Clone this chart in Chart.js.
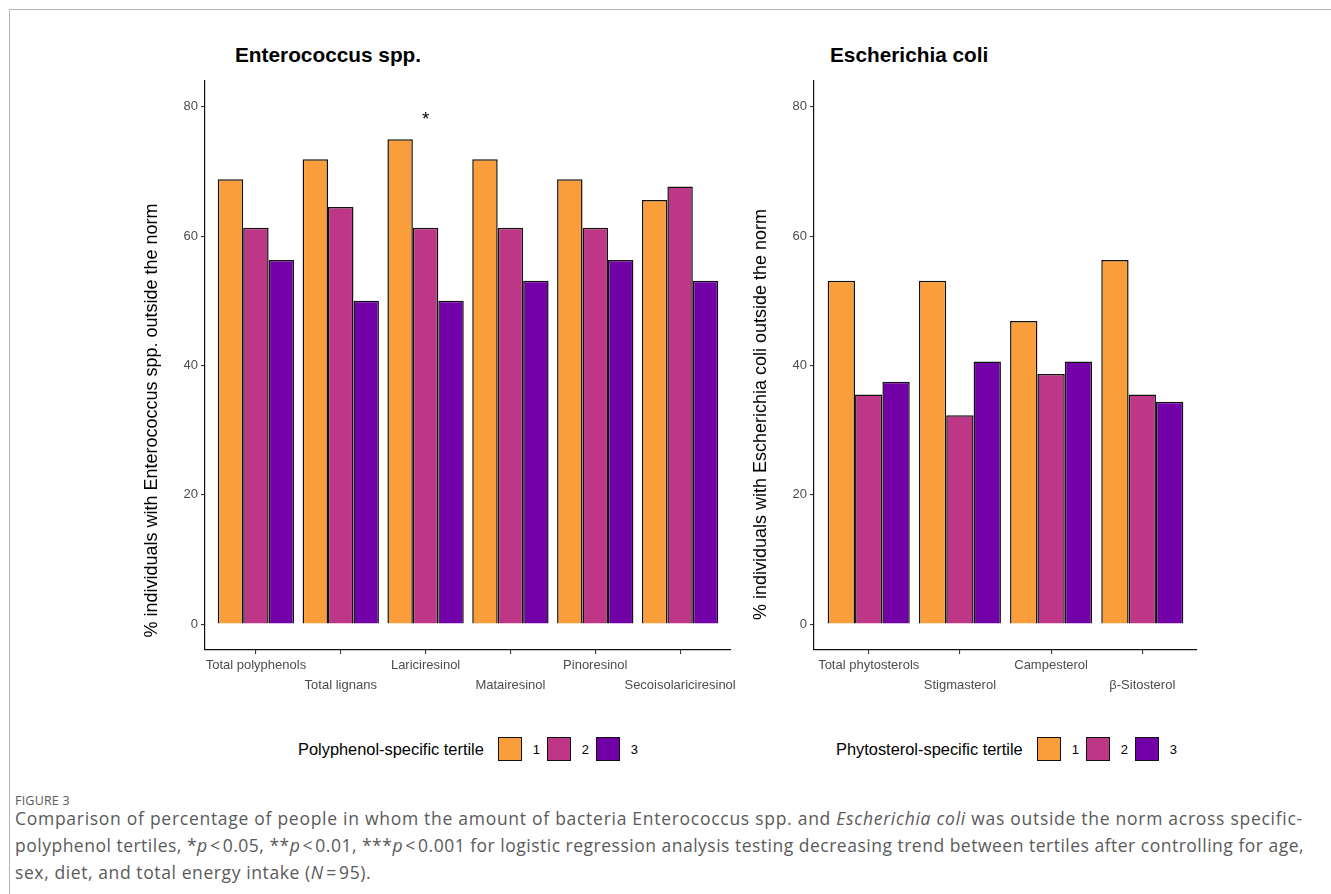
<!DOCTYPE html>
<html>
<head>
<meta charset="utf-8">
<script src="https://cdn.jsdelivr.net/npm/chart.js@4.4.0/dist/chart.umd.min.js"></script>
<style>
  body { margin: 0; background: #fff; width: 1331px; height: 894px; position: relative; overflow: hidden; font-family: "Liberation Sans", Arial, sans-serif; }
  .frame { position: absolute; left: 9px; top: 9px; width: 1330px; height: 900px; border-left: 1px solid #b5b5b5; border-top: 1px solid #b5b5b5; }
  canvas { position: absolute; }
  .ptitle { position: absolute; font-weight: bold; font-size: 20.8px; color: #000; white-space: nowrap; line-height: 1; }
  .legend { position: absolute; display: flex; align-items: center; font-size: 16.4px; color: #000; white-space: nowrap; height: 24px; }
  .legend .name { margin-right: 14px; }
  .legend .sw { width: 22px; height: 22px; border: 1px solid #111; margin-right: 11px; }
  .legend .lab { font-size: 13px; margin-right: 6px; width: 8px; }
  .fig { position: absolute; left: 15px; top: 792px; font-family: "Open Sans", sans-serif; font-size: 12.5px; color: #5a5a5a; letter-spacing: 0.2px; }
  .caption { position: absolute; left: 15px; top: 805px; font-family: "Open Sans", sans-serif; font-size: 17.5px; line-height: 27px; color: #5a5a5a; white-space: nowrap; }
  .caption div { height: 27px; }
</style>
</head>
<body>
<div class="frame"></div>

<div class="ptitle" style="left:235px; top:45px;">Enterococcus spp.</div>
<div class="ptitle" style="left:830px; top:45px;">Escherichia coli</div>

<canvas id="polyChart" width="620" height="640" style="left:130px; top:70px;"></canvas>
<canvas id="sterolChart" width="480" height="640" style="left:740px; top:70px;"></canvas>

<div class="legend" id="polyLegend" style="left:298px; top:737px;"></div>
<div class="legend" id="sterolLegend" style="left:836px; top:737px;"></div>

<div class="fig">FIGURE 3</div>
<div class="caption">
  <div style="letter-spacing:0.72px;">Comparison of percentage of people in whom the amount of bacteria Enterococcus spp. and <i>Escherichia coli</i> was outside the norm across specific-</div>
  <div style="letter-spacing:0.5px;">polyphenol tertiles, *<i>p</i>&#8202;&lt;&#8202;0.05, **<i>p</i>&#8202;&lt;&#8202;0.01, ***<i>p</i>&#8202;&lt;&#8202;0.001 for logistic regression analysis testing decreasing trend between tertiles after controlling for age,</div>
  <div style="letter-spacing:0.6px;">sex, diet, and total energy intake (<i>N</i>&#8202;=&#8202;95).</div>
</div>

<script>
// Enterococcus spp. panel (polyphenols)
const polyCats = ['Total polyphenols', 'Total lignans', 'Lariciresinol', 'Matairesinol', 'Pinoresinol', 'Secoisolariciresinol'];
const polyT1 = [68.8, 71.9, 75.0, 71.9, 68.8, 65.6];
const polyT2 = [61.3, 64.5, 61.3, 61.3, 61.3, 67.7];
const polyT3 = [56.3, 50.0, 50.0, 53.1, 56.3, 53.1];
const polySig = ['', '', '*', '', '', ''];

// Escherichia coli panel (phytosterols)
const sterolCats = ['Total phytosterols', 'Stigmasterol', 'Campesterol', 'β-Sitosterol'];
const sterolT1 = [53.1, 53.1, 46.9, 56.3];
const sterolT2 = [35.5, 32.3, 38.7, 35.5];
const sterolT3 = [37.5, 40.6, 40.6, 34.4];
const sterolSig = ['', '', '', ''];

const yTicks = [0, 20, 40, 60, 80];
const tertiles = ['1', '2', '3'];
const tertileColors = ['#FA9E3B', '#BD3786', '#7201A8'];

Chart.defaults.font.family = '"Liberation Sans", Arial, sans-serif';

// rotated y title, shifted down like the original
const yTitlePlugin = {
    id: 'yTitle',
    afterDraw(chart, args, opts) {
        const { ctx, chartArea } = chart;
        ctx.save();
        ctx.font = '18px "Liberation Sans", Arial, sans-serif';
        ctx.fillStyle = '#000';
        ctx.textAlign = 'center';
        ctx.textBaseline = 'middle';
        ctx.translate(chartArea.left - opts.offset, (chartArea.top + chartArea.bottom) / 2 + opts.shift);
        ctx.rotate(-Math.PI / 2);
        ctx.fillText(opts.text, 0, 0);
        ctx.restore();
    }
};

// significance stars above groups
const sigPlugin = {
    id: 'sig',
    afterDatasetsDraw(chart, args, opts) {
        const { ctx } = chart;
        const xs = chart.scales.x, ys = chart.scales.y;
        ctx.save();
        ctx.font = '19px "Liberation Sans", Arial, sans-serif';
        ctx.fillStyle = '#000';
        ctx.textAlign = 'center';
        ctx.textBaseline = 'top';
        opts.labels.forEach((s, i) => {
            if (s) ctx.fillText(s, xs.getPixelForValue(i), ys.getPixelForValue(opts.at));
        });
        ctx.restore();
    }
};

function makeChart(id, cats, series, sig, yTitle, yWidth, padRight, titleShift) {
    const ctx = document.getElementById(id).getContext('2d');
    return new Chart(ctx, {
        type: 'bar',
        data: {
            datasets: series.map((vals, k) => ({
                label: tertiles[k],
                data: vals.map((v, i) => ({ x: i, y: v })),
                backgroundColor: tertileColors[k],
                borderColor: '#111',
                borderWidth: 1.5,
                categoryPercentage: 0.9,
                barPercentage: 1.0
            }))
        },
        options: {
            responsive: false,
            animation: false,
            devicePixelRatio: 1,
            layout: { padding: { top: 11, right: padRight, left: 0, bottom: 0 } },
            plugins: {
                legend: { display: false },
                tooltip: { enabled: false },
                yTitle: { text: yTitle, offset: 53, shift: titleShift },
                sig: { labels: sig, at: 79.5 }
            },
            scales: {
                x: {
                    type: 'linear',
                    offset: false,
                    min: -0.6,
                    max: cats.length - 0.4,
                    afterBuildTicks: (axis) => { axis.ticks = cats.map((_, i) => ({ value: i })); },
                    afterFit: (scale) => { scale.height = 60; },
                    ticks: {
                        autoSkip: false,
                        maxRotation: 0,
                        color: '#4d4d4d',
                        font: { size: 13, lineHeight: 1.55 },
                        padding: 1,
                        callback: (value) => (value % 2 === 0 ? cats[value] : ['', cats[value]])
                    },
                    grid: { offset: false, drawOnChartArea: false, drawTicks: true, tickLength: 4, color: '#333', lineWidth: 1.1 },
                    border: { display: true, color: '#111', width: 1.2 }
                },
                y: {
                    min: -4,
                    max: 84,
                    afterBuildTicks: (axis) => { axis.ticks = yTicks.map(v => ({ value: v })); },
                    afterFit: (scale) => { scale.width = yWidth; },
                    ticks: { color: '#4d4d4d', font: { size: 13 }, padding: 3 },
                    grid: { drawOnChartArea: false, drawTicks: true, tickLength: 4, color: '#333', lineWidth: 1.1 },
                    border: { display: true, color: '#111', width: 1.2 }
                }
            }
        },
        plugins: [yTitlePlugin, sigPlugin]
    });
}

makeChart('polyChart', polyCats, [polyT1, polyT2, polyT3], polySig,
    '% individuals with Enterococcus spp. outside the norm', 75, 19, 55);
makeChart('sterolChart', sterolCats, [sterolT1, sterolT2, sterolT3], sterolSig,
    '% individuals with Escherichia coli outside the norm', 74, 23, 49);

// legends built from the tertile arrays
function buildLegend(id, name) {
    const el = document.getElementById(id);
    let html = `<span class="name">${name}</span>`;
    tertiles.forEach((t, k) => {
        html += `<span class="sw" style="background:${tertileColors[k]}"></span><span class="lab">${t}</span>`;
    });
    el.innerHTML = html;
}
buildLegend('polyLegend', 'Polyphenol-specific tertile');
buildLegend('sterolLegend', 'Phytosterol-specific tertile');
</script>
</body>
</html>
